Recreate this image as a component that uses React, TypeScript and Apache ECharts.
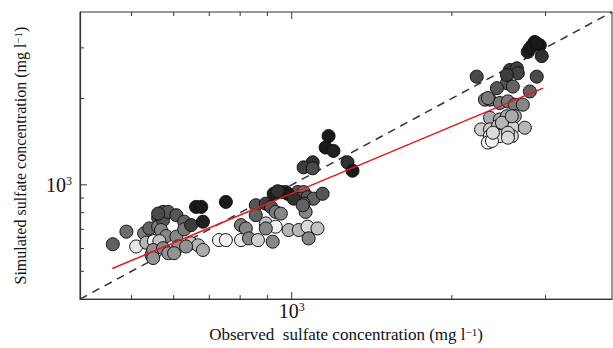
import React, { useEffect, useRef } from "react";
import * as echarts from "echarts";

const axisMin = 400;
const axisMax = 4000;
const xTicks = [500, 600, 700, 800, 900, 1000, 2000, 3000];
const yTicks = [500, 600, 700, 800, 900, 1000, 2000, 3000];
const majorTick = 1000;

const xTitle = "Observed  sulfate concentration (mg l{s|−1})";
const yTitle = "Simulated sulfate concentration (mg l{s|−1})";

// [observed, simulated, shade (0 = black, 1 = white)]
const lowCluster = [
  [461, 621, 0.35], [489, 687, 0.4], [510, 610, 0.9], [528, 678, 0.45], [533, 629, 0.7],
  [540, 705, 0.35], [551, 637, 0.95], [561, 768, 0.3], [561, 715, 0.45], [573, 805, 0.3],
  [573, 753, 0.3], [568, 696, 0.5], [586, 805, 0.3], [607, 784, 0.3], [581, 663, 0.5],
  [564, 637, 0.75], [545, 570, 0.5], [549, 593, 0.55], [573, 602, 0.5], [586, 578, 0.55],
  [607, 660, 0.5], [612, 610, 0.55], [628, 744, 0.35], [628, 700, 0.45], [647, 724, 0.2],
  [661, 838, 0.05], [676, 838, 0.05], [681, 744, 0.08], [647, 626, 0.75], [667, 616, 0.7],
  [681, 593, 0.65], [633, 610, 0.55], [601, 578, 0.55], [549, 556, 0.55], [752, 872, 0.05],
  [561, 794, 0.25],
];

const midCluster = [
  [730, 642, 0.95], [752, 642, 0.95], [803, 724, 0.45], [820, 705, 0.5], [803, 642, 0.9],
  [831, 651, 0.5], [864, 642, 0.8], [856, 849, 0.3], [856, 784, 0.35], [894, 860, 0.2],
  [925, 931, 0.08], [914, 838, 0.3], [933, 805, 0.45], [954, 794, 0.5], [894, 734, 0.75],
  [933, 715, 0.95], [894, 705, 0.5], [921, 634, 0.5], [954, 944, 0.15], [974, 944, 0.15],
  [1026, 944, 0.3], [1053, 944, 0.4], [1040, 895, 0.3], [1071, 907, 0.3], [1099, 895, 0.35],
  [1143, 931, 0.3], [1053, 860, 0.4], [1062, 805, 0.5], [987, 696, 0.7], [1031, 696, 0.7],
  [1071, 715, 0.85], [1118, 705, 0.75], [1076, 651, 0.5], [983, 931, 0.05], [1009, 895, 0.15],
  [1049, 849, 0.35], [941, 950, 0.15],
];

const highMid = [
  [1173, 1479, 0.05], [1158, 1349, 0.05], [1198, 1313, 0.08], [1095, 1198, 0.15],
  [1053, 1151, 0.2], [1095, 1142, 0.25], [1273, 1198, 0.15], [1301, 1120, 0.05],
];

const upperCluster = [
  [2864, 3145, 0.03], [2835, 3063, 0.05], [2926, 3063, 0.05], [2778, 2905, 0.08], [2951, 2808, 0.15],
  [2803, 2984, 0.05], [2888, 3105, 0.05], [2227, 2382, 0.25], [2571, 2512, 0.2], [2650, 2546, 0.2],
  [2661, 2447, 0.22], [2888, 2382, 0.25], [2538, 2261, 0.3], [2431, 2172, 0.3], [2604, 2200, 0.35],
  [2803, 2114, 0.35], [2308, 1980, 0.45], [2359, 1980, 0.45], [2462, 1928, 0.45], [2549, 1953, 0.45],
  [2627, 1902, 0.45], [2719, 1902, 0.5], [2359, 1712, 0.65], [2462, 1689, 0.65], [2538, 1734, 0.65],
  [2627, 1734, 0.65], [2270, 1560, 0.8], [2359, 1560, 0.8], [2441, 1601, 0.75], [2516, 1560, 0.8],
  [2604, 1581, 0.8], [2743, 1581, 0.7], [2359, 1479, 0.9], [2462, 1479, 0.9], [2593, 1479, 0.85],
  [2338, 1404, 0.95], [2379, 1422, 0.95], [2389, 1519, 0.85], [2484, 1645, 0.7], [2538, 2415, 0.2],
  [2338, 2006, 0.45], [2549, 1519, 0.8], [2549, 1460, 0.85], [2593, 1734, 0.65],
];

const regressionLine = [[460, 511], [2968, 2172]];
const identityLine = [[400, 400], [4000, 4000]];

const FONT = '"Liberation Serif", "Times New Roman", serif';

export default function App() {
  const ref = useRef<HTMLDivElement>(null);

  useEffect(() => {
    if (!ref.current) return;
    const chart = echarts.init(ref.current, null, { renderer: "svg" });

    const tickData = [
      ...xTicks.map((v) => [v, axisMin, 0]),
      ...yTicks.map((v) => [axisMin, v, 1]),
    ];

    const labelFmt = (v: number) => (Math.abs(v - majorTick) < 1 ? "{b|10}{s|3}" : "");
    const labelRich = {
      b: { fontFamily: FONT, fontSize: 20, color: "#111" },
      s: { fontFamily: FONT, fontSize: 12, color: "#111", verticalAlign: "top" },
    };
    const nameRich = {
      s: { fontFamily: FONT, fontSize: 11, color: "#111", verticalAlign: "top" },
    };

    chart.setOption({
      animation: false,
      backgroundColor: "#ffffff",
      grid: {
        left: 80,
        right: 0,
        top: 12,
        bottom: 48,
        show: true,
        borderColor: "#333",
        borderWidth: 1,
        backgroundColor: "transparent",
      },
      xAxis: {
        type: "log",
        logBase: 10,
        min: axisMin,
        max: axisMax,
        name: xTitle,
        nameLocation: "middle",
        nameGap: 17,
        nameTextStyle: { fontFamily: FONT, fontSize: 17, color: "#111", rich: nameRich },
        axisLine: { show: true, lineStyle: { color: "#333", width: 1.2 } },
        axisTick: { show: false },
        splitLine: { show: false },
        axisLabel: { formatter: labelFmt, margin: 2, rich: labelRich },
      },
      yAxis: {
        type: "log",
        logBase: 10,
        min: axisMin,
        max: axisMax,
        name: yTitle,
        nameLocation: "middle",
        nameGap: 52,
        nameRotate: 90,
        nameTextStyle: { fontFamily: FONT, fontSize: 16, color: "#111", rich: nameRich },
        axisLine: { show: true, lineStyle: { color: "#333", width: 1.2 } },
        axisTick: { show: false },
        splitLine: { show: false },
        axisLabel: { formatter: labelFmt, margin: 8, rich: labelRich },
      },
      visualMap: {
        show: false,
        type: "continuous",
        dimension: 2,
        min: 0,
        max: 1,
        seriesIndex: 1,
        inRange: { color: ["#0d0d0d", "#ffffff"] },
      },
      series: [
        {
          type: "line",
          data: identityLine,
          symbol: "none",
          silent: true,
          z: 1,
          lineStyle: { color: "#333", width: 1.5, type: [8, 6] },
        },
        {
          type: "scatter",
          data: [...lowCluster, ...midCluster, ...highMid, ...upperCluster],
          symbol: "circle",
          symbolSize: 13,
          z: 2,
          itemStyle: { borderColor: "#111", borderWidth: 1, opacity: 1 },
        },
        {
          type: "line",
          data: regressionLine,
          symbol: "none",
          silent: true,
          z: 3,
          lineStyle: { color: "#e8191b", width: 1.5 },
        },
        {
          type: "custom",
          data: tickData,
          encode: { x: 0, y: 1 },
          silent: true,
          clip: false,
          z: 4,
          renderItem: (params: any, api: any) => {
            const cs = params.coordSys;
            const isY = api.value(2) === 1;
            const style = { stroke: "#333", lineWidth: 1 };
            if (!isY) {
              const v = api.value(0);
              const len = Math.abs(v - majorTick) < 1 ? 7 : 4;
              const px = api.coord([v, axisMin])[0];
              const bottom = cs.y + cs.height;
              return {
                type: "group",
                children: [
                  { type: "line", shape: { x1: px, y1: bottom, x2: px, y2: bottom - len }, style },
                  { type: "line", shape: { x1: px, y1: cs.y, x2: px, y2: cs.y + len }, style },
                ],
              };
            }
            const v = api.value(1);
            const len = Math.abs(v - majorTick) < 1 ? 7 : 4;
            const py = api.coord([axisMin, v])[1];
            return {
              type: "line",
              shape: { x1: cs.x, y1: py, x2: cs.x + len, y2: py },
              style,
            };
          },
        },
      ],
    });

    return () => chart.dispose();
  }, []);

  return (
    <div
      ref={ref}
      style={{ position: "fixed", left: 0, top: 0, width: 615, height: 348, background: "#fff" }}
    />
  );
}
